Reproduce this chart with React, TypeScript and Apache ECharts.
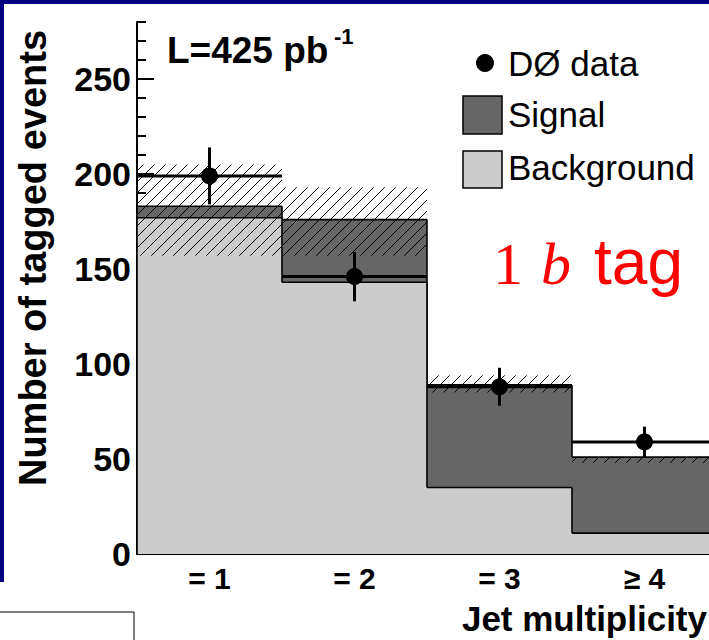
import React, { useEffect, useRef } from "react";
import * as echarts from "echarts";

// ---- data ----
const binLabels = ["= 1", "= 2", "= 3", "≥ 4"];
const binCenters = [1, 2, 3, 4];
const backgroundValues = [177, 143, 35, 11];
const signalValues = [6, 33, 54, 40];
const uncertaintyLow = [157, 157, 85, 48];
const uncertaintyHigh = [205, 193, 94, 51];
const dataValues = [199, 146, 88, 59];
const dataErrors = [15, 13, 10, 8];
const yMajorTicks = [0, 50, 100, 150, 200, 250];
const yMinorTicks = [0, 10, 20, 30, 40, 50, 60, 70, 80, 90, 100, 110, 120, 130, 140, 150, 160, 170, 180, 190, 200, 210, 220, 230, 240, 250, 260, 270, 280];

const SANS = "'Liberation Sans', Arial, sans-serif";
const SERIF = "'Liberation Serif', 'DejaVu Serif', serif";
const DARK = "#666666";
const LIGHT = "#cccccc";

function stepData(values: number[]) {
  return binCenters.map((c, i) => [c - 0.5, c + 0.5, values[i], i === 0 ? 0 : values[i - 1]]);
}

function histRender(color: string) {
  return (params: any, api: any) => {
    const lo = api.value(0), hi = api.value(1), v = api.value(2), pv = api.value(3);
    const p0 = api.coord([lo, 0]);
    const p1 = api.coord([hi, v]);
    const pp = api.coord([lo, pv]);
    return {
      type: "group",
      children: [
        { type: "rect", shape: { x: p0[0], y: p1[1], width: p1[0] - p0[0], height: p0[1] - p1[1] }, style: { fill: color } },
        { type: "line", shape: { x1: p0[0], y1: p1[1], x2: p1[0], y2: p1[1] }, style: { stroke: "#000", lineWidth: 1.6 } },
        { type: "line", shape: { x1: p0[0], y1: pp[1], x2: p0[0], y2: p1[1] }, style: { stroke: "#000", lineWidth: 1.6 } },
      ],
    };
  };
}

function hatchRender(params: any, api: any) {
  const lo = api.value(0), hi = api.value(1), low = api.value(2), high = api.value(3);
  const a = api.coord([lo, high]);
  const b = api.coord([hi, low]);
  const x0 = a[0], y0 = a[1], x1 = b[0], y1 = b[1];
  const s = 11;
  const children: any[] = [];
  for (let c = Math.ceil((x0 + y0) / s) * s; c <= x1 + y1; c += s) {
    const xa = Math.max(x0, c - y1);
    const xb = Math.min(x1, c - y0);
    if (xb > xa) {
      children.push({ type: "line", shape: { x1: xa, y1: c - xa, x2: xb, y2: c - xb }, style: { stroke: "#000", lineWidth: 1 } });
    }
  }
  return { type: "group", children };
}

function dataRender(params: any, api: any) {
  const x = api.value(0), v = api.value(1), e = api.value(2);
  const c = api.coord([x, v]);
  const t = api.coord([x, v + e]);
  const bt = api.coord([x, v - e]);
  const l = api.coord([x - 0.5, v]);
  const r = api.coord([x + 0.5, v]);
  return {
    type: "group",
    children: [
      { type: "line", shape: { x1: l[0], y1: l[1], x2: r[0], y2: r[1] }, style: { stroke: "#000", lineWidth: 3 } },
      { type: "line", shape: { x1: t[0], y1: t[1], x2: bt[0], y2: bt[1] }, style: { stroke: "#000", lineWidth: 3 } },
      { type: "circle", shape: { cx: c[0], cy: c[1], r: 8.5 }, style: { fill: "#000" } },
    ],
  };
}

function txt(text: string, x: number, y: number, fontSize: number, extra: any = {}, align = "left") {
  return {
    type: "text",
    x,
    y,
    style: {
      text,
      fontSize,
      fontFamily: SANS,
      fill: "#000",
      textAlign: align,
      textVerticalAlign: "middle",
      align,
      verticalAlign: "middle",
      ...extra,
    },
  };
}

export default function App() {
  const ref = useRef<HTMLDivElement>(null);
  useEffect(() => {
    const chart = echarts.init(ref.current!, null, { renderer: "svg" });
    const totalValues = backgroundValues.map((b, i) => b + signalValues[i]);
    const option: any = {
      animation: false,
      grid: { left: 137, right: 0, top: 22, bottom: 86 },
      xAxis: [
        {
          type: "value",
          min: 0.5,
          max: 4.445,
          position: "bottom",
          splitLine: { show: false },
          axisLine: { lineStyle: { color: "#000", width: 2 } },
          axisTick: { show: true, inside: true, length: 17, customValues: binCenters, lineStyle: { color: "#000", width: 2 } },
          axisLabel: {
            customValues: binCenters,
            formatter: (v: number) => binLabels[binCenters.indexOf(Math.round(v))] ?? "",
            fontSize: 30,
            fontWeight: "bold",
            fontFamily: SANS,
            color: "#000",
            margin: 9,
          },
        },
        {
          type: "value",
          min: 0.5,
          max: 4.445,
          position: "top",
          splitLine: { show: false },
          axisLine: { lineStyle: { color: "#000", width: 1.5 } },
          axisTick: { show: false },
          axisLabel: { show: false },
        },
      ],
      yAxis: [
        {
          type: "value",
          min: 0,
          max: 280,
          splitLine: { show: false },
          axisLine: { show: true, lineStyle: { color: "#000", width: 2 } },
          axisTick: { show: true, inside: true, length: 17, customValues: yMajorTicks, lineStyle: { color: "#000", width: 2 } },
          axisLabel: { customValues: yMajorTicks, fontSize: 34, fontWeight: "bold", fontFamily: SANS, color: "#000", margin: 6 },
        },
        {
          type: "value",
          min: 0,
          max: 280,
          position: "left",
          splitLine: { show: false },
          axisLine: { show: false },
          axisTick: { show: true, inside: true, length: 9, customValues: yMinorTicks, lineStyle: { color: "#000", width: 2 } },
          axisLabel: { show: false },
        },
      ],
      series: [
        { name: "Signal", type: "custom", clip: true, renderItem: histRender(DARK), data: stepData(totalValues) },
        { name: "Background", type: "custom", clip: true, renderItem: histRender(LIGHT), data: stepData(backgroundValues) },
        {
          name: "Uncertainty",
          type: "custom",
          clip: true,
          renderItem: hatchRender,
          data: binCenters.map((c, i) => [c - 0.5, c + 0.5, uncertaintyLow[i], uncertaintyHigh[i]]),
        },
        {
          name: "DØ data",
          type: "custom",
          clip: true,
          renderItem: dataRender,
          data: binCenters.map((c, i) => [c, dataValues[i], dataErrors[i]]),
        },
      ],
      graphic: [
        { type: "rect", shape: { x: 0, y: 0, width: 709, height: 4 }, style: { fill: "#000080" } },
        { type: "rect", shape: { x: 0, y: 0, width: 4, height: 582 }, style: { fill: "#000080" } },
        { type: "rect", shape: { x: -2, y: 612, width: 136, height: 40 }, style: { fill: "#fff", stroke: "#000", lineWidth: 1 } },
        { ...txt("Number of tagged events", 33, 258, 38, { fontWeight: "bold" }, "center"), rotation: Math.PI / 2 },
        txt("L=425 pb", 167, 50, 37, { fontWeight: "bold" }),
        txt("-1", 334, 36, 22, { fontWeight: "bold" }),
        { type: "circle", shape: { cx: 485, cy: 63, r: 9 }, style: { fill: "#000" } },
        txt("DØ data", 508, 63, 35),
        { type: "rect", shape: { x: 463, y: 96, width: 39, height: 38 }, style: { fill: DARK, stroke: "#000", lineWidth: 1.5 } },
        txt("Signal", 508, 114, 35),
        { type: "rect", shape: { x: 463, y: 151, width: 39, height: 37 }, style: { fill: LIGHT, stroke: "#000", lineWidth: 1.5 } },
        txt("Background", 508, 167, 35),
        txt("1", 493, 264, 60, { fontFamily: SERIF, fill: "#ff0000" }),
        txt("b", 541, 264, 60, { fontFamily: SERIF, fontStyle: "italic", fill: "#ff0000" }),
        txt("tag", 594, 262, 64, { fill: "#ff0000" }),
        txt("Jet multiplicity", 707, 618, 35, { fontWeight: "bold" }, "right"),
      ],
    };
    chart.setOption(option);
    return () => chart.dispose();
  }, []);
  return <div ref={ref} style={{ position: "fixed", left: 0, top: 0, width: 709, height: 640, background: "#fff" }} />;
}
